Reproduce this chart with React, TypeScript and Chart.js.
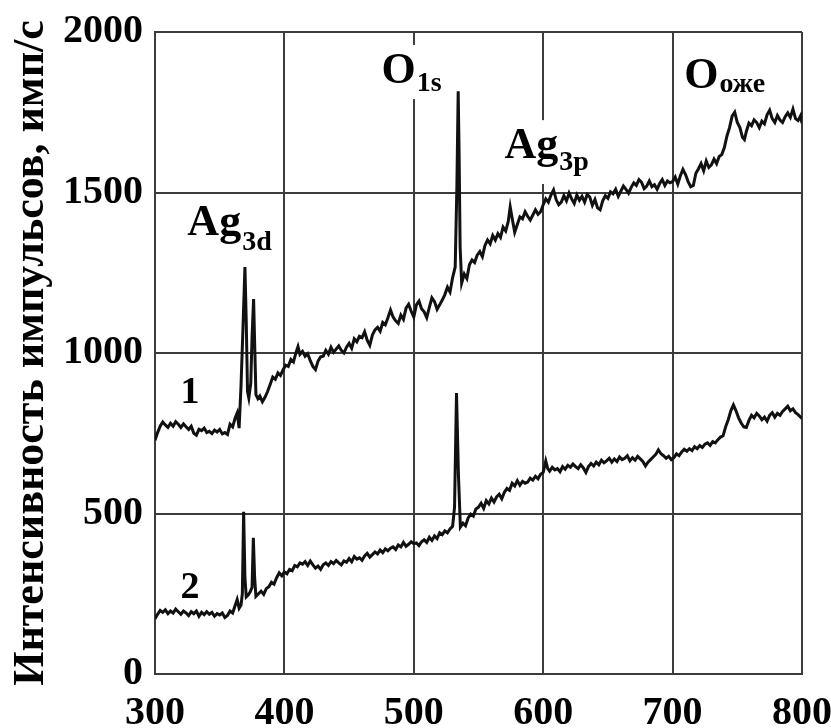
import { useEffect, useRef } from 'react';
import { Chart, registerables } from 'chart.js';

Chart.register(...registerables);

const SERIF = '"Liberation Serif", "Times New Roman", serif';

// Sample 1: [energy, counts] pairs
const curve1: [number, number][] = [
  [300, 728], [302, 752], [304, 772], [306, 785], [308, 776], [310, 768], [312, 781], [314, 772],
  [316, 786], [318, 778], [320, 768], [322, 779], [324, 770], [326, 762], [328, 772], [330, 750],
  [332, 744], [334, 762], [336, 758], [338, 766], [340, 752], [342, 756], [344, 749], [346, 760],
  [348, 754], [350, 762], [352, 748], [354, 752], [356, 746], [358, 778], [360, 770], [362, 798],
  [363.5, 813], [365, 766], [366.5, 900], [368, 1080], [369.5, 1268], [370.5, 1100], [371.5, 880],
  [372.5, 860], [374, 905], [375, 1050], [376.2, 1168], [377.2, 1000], [378, 870], [379.5, 858],
  [381, 866], [383, 848], [385, 862], [387, 880], [389, 902], [391, 925], [393, 918], [395, 938],
  [397, 930], [399, 948], [401, 962], [403, 958], [405, 980], [407, 972], [409, 1002], [410.5, 1020],
  [412, 996], [414, 1005], [416, 990], [418, 998], [420, 976], [422, 958], [424, 948], [426, 975],
  [428, 988], [430, 990], [432, 1008], [434, 996], [436, 1018], [438, 1002], [440, 1012], [442, 1022],
  [444, 1008], [446, 1000], [448, 1018], [450, 1030], [452, 1015], [454, 1044], [456, 1035], [458, 1052],
  [460, 1048], [462, 1066], [464, 1040], [466, 1024], [468, 1056], [470, 1072], [472, 1080], [474, 1068],
  [476, 1095], [478, 1088], [480, 1110], [482, 1134], [484, 1112], [486, 1100], [488, 1092], [490, 1118],
  [492, 1105], [494, 1140], [496, 1152], [498, 1130], [500, 1112], [502, 1150], [504, 1162], [506, 1138],
  [508, 1128], [510, 1110], [512, 1142], [514, 1172], [516, 1160], [518, 1136], [520, 1150], [522, 1165],
  [524, 1182], [526, 1205], [528, 1190], [530, 1235], [532, 1268], [533.3, 1520], [534.3, 1815],
  [535, 1625], [535.8, 1330], [537, 1218], [539, 1246], [541, 1232], [543, 1275], [545, 1290],
  [547, 1282], [549, 1305], [551, 1316], [553, 1300], [555, 1335], [557, 1352], [559, 1340], [561, 1366],
  [563, 1352], [565, 1372], [567, 1360], [569, 1392], [571, 1380], [573, 1410], [574.5, 1455], [576, 1420],
  [578, 1376], [580, 1400], [582, 1424], [584, 1418], [586, 1440], [588, 1426], [590, 1414], [592, 1430],
  [594, 1446], [596, 1432], [598, 1440], [600, 1462], [602, 1480], [604, 1470], [606, 1492], [608, 1508],
  [610, 1478], [612, 1462], [614, 1470], [616, 1490], [618, 1474], [620, 1498], [622, 1480], [624, 1466],
  [626, 1492], [628, 1476], [630, 1488], [632, 1470], [634, 1494], [636, 1486], [638, 1460], [640, 1478],
  [642, 1452], [644, 1446], [646, 1474], [648, 1490], [650, 1482], [652, 1502], [654, 1496], [656, 1510],
  [658, 1488], [660, 1504], [662, 1520], [664, 1510], [666, 1498], [668, 1516], [670, 1530], [672, 1522],
  [674, 1540], [676, 1532], [678, 1512], [680, 1520], [682, 1536], [684, 1518], [686, 1524], [688, 1510],
  [690, 1528], [692, 1540], [694, 1522], [696, 1536], [698, 1530], [700, 1534], [702, 1548], [704, 1526],
  [706, 1552], [708, 1572], [710, 1556], [712, 1534], [714, 1518], [716, 1522], [718, 1560], [720, 1574],
  [722, 1590], [724, 1568], [726, 1598], [728, 1578], [730, 1586], [732, 1604], [734, 1590], [736, 1612],
  [738, 1618], [740, 1640], [742, 1676], [744, 1702], [746, 1738], [748, 1750], [750, 1718], [752, 1702],
  [754, 1672], [755.5, 1665], [757, 1690], [759, 1716], [761, 1708], [763, 1726], [765, 1718], [767, 1702],
  [769, 1722], [771, 1714], [773, 1742], [775, 1756], [777, 1730], [779, 1718], [781, 1740], [783, 1726],
  [785, 1718], [787, 1736], [789, 1748], [791, 1734], [793, 1760], [795, 1730], [797, 1724], [799, 1740],
  [800, 1716],
];

// Sample 2: [energy, counts] pairs
const curve2: [number, number][] = [
  [300, 172], [302, 186], [304, 198], [306, 192], [308, 200], [310, 188], [312, 196], [314, 190],
  [316, 202], [318, 194], [320, 186], [322, 196], [324, 190], [326, 182], [328, 194], [330, 188],
  [332, 196], [334, 180], [336, 192], [338, 185], [340, 194], [342, 186], [344, 192], [346, 180],
  [348, 188], [350, 184], [352, 190], [354, 176], [356, 182], [358, 196], [360, 190], [362, 214],
  [363.5, 232], [365, 205], [366.5, 215], [367.5, 250], [368.5, 505], [369.5, 300], [370.5, 240],
  [372, 246], [373.5, 255], [375, 270], [376, 424], [377, 300], [378, 242], [380, 250], [382, 258],
  [384, 248], [386, 266], [388, 272], [390, 286], [392, 280], [394, 300], [396, 315], [398, 306],
  [400, 318], [402, 312], [404, 326], [406, 322], [408, 338], [410, 334], [412, 346], [414, 342],
  [416, 350], [418, 338], [420, 352], [422, 340], [424, 330], [426, 336], [428, 326], [430, 340],
  [432, 346], [434, 338], [436, 350], [438, 344], [440, 354], [442, 346], [444, 340], [446, 352],
  [448, 348], [450, 360], [452, 350], [454, 366], [456, 358], [458, 362], [460, 354], [462, 368],
  [464, 376], [466, 364], [468, 372], [470, 380], [472, 374], [474, 386], [476, 378], [478, 390],
  [480, 384], [482, 392], [484, 396], [486, 388], [488, 402], [490, 396], [492, 410], [494, 398],
  [496, 404], [498, 412], [500, 406], [502, 408], [504, 400], [506, 412], [508, 418], [510, 410],
  [512, 426], [514, 416], [516, 430], [518, 422], [520, 440], [522, 434], [524, 446], [526, 440],
  [528, 452], [530, 460], [531.5, 520], [533, 875], [534.5, 620], [536, 458], [538, 470], [540, 462],
  [542, 486], [544, 498], [546, 492], [548, 514], [550, 520], [552, 532], [554, 516], [556, 540],
  [558, 530], [560, 548], [562, 536], [564, 552], [566, 560], [568, 546], [570, 566], [572, 578],
  [574, 572], [576, 594], [578, 586], [580, 602], [582, 588], [584, 600], [586, 594], [588, 598],
  [590, 610], [592, 604], [594, 616], [596, 608], [598, 622], [600, 628], [602, 664], [603.5, 640],
  [605, 632], [607, 644], [609, 636], [611, 640], [613, 630], [615, 646], [617, 638], [619, 650],
  [621, 644], [623, 654], [625, 646], [627, 640], [629, 652], [631, 642], [633, 628], [635, 646],
  [637, 656], [639, 648], [641, 660], [643, 652], [645, 666], [647, 658], [649, 664], [651, 672],
  [653, 660], [655, 670], [657, 662], [659, 676], [661, 668], [663, 672], [665, 680], [667, 664],
  [669, 674], [671, 666], [673, 678], [675, 670], [677, 662], [679, 648], [681, 660], [683, 668],
  [685, 676], [687, 684], [689, 698], [691, 686], [693, 680], [695, 672], [697, 678], [699, 668],
  [701, 674], [703, 686], [705, 680], [707, 692], [709, 700], [711, 694], [713, 702], [715, 696],
  [717, 708], [719, 702], [721, 712], [723, 706], [725, 716], [727, 720], [729, 712], [731, 724],
  [733, 720], [735, 730], [737, 738], [739, 742], [741, 770], [743, 792], [745, 820], [747, 838],
  [749, 820], [751, 798], [753, 782], [755, 770], [757, 768], [759, 790], [761, 806], [763, 798],
  [765, 812], [767, 804], [769, 792], [771, 800], [773, 788], [775, 806], [777, 814], [779, 800],
  [781, 812], [783, 806], [785, 818], [787, 826], [789, 834], [791, 820], [793, 826], [795, 814],
  [797, 808], [799, 800], [800, 796],
];

const xTicks = [300, 400, 500, 600, 700, 800];
const yTicks = [0, 500, 1000, 1500, 2000];

const yTitle = 'Интенсивность импульсов, имп/с';

// Peak labels with subscripts, anchored in data units (energy, counts)
const peakNotes = [
  { main: 'Ag', sub: '3d', x: 325, y: 1368, subY: 1321 },
  { main: 'O', sub: '1s', x: 475, y: 1841, subY: 1816 },
  { main: 'Ag', sub: '3p', x: 570, y: 1607, subY: 1570 },
  { main: 'O', sub: 'оже', x: 709, y: 1826, subY: 1813 },
];

// Curve numbers
const curveNotes = [
  { text: '1', x: 327, y: 845 },
  { text: '2', x: 327, y: 237 },
];

const GRID = '#3c3c3c';

const notesPlugin = {
  id: 'spectrumNotes',
  beforeDatasetsDraw(chart: any) {
    const { ctx, scales } = chart;
    const xs = scales.x;
    const ys = scales.y;
    ctx.save();
    ctx.textAlign = 'left';
    ctx.textBaseline = 'alphabetic';
    for (const n of peakNotes) {
      const px = xs.getPixelForValue(n.x);
      const py = ys.getPixelForValue(n.y);
      const sy = ys.getPixelForValue(n.subY);
      const mainFont = `bold 44px ${SERIF}`;
      const subFont = `bold 28px ${SERIF}`;
      ctx.font = mainFont;
      const mm = ctx.measureText(n.main);
      ctx.font = subFont;
      const sm = ctx.measureText(n.sub);
      const sx = px + mm.width + 1;
      const top = Math.min(py - mm.actualBoundingBoxAscent, sy - sm.actualBoundingBoxAscent) - 9;
      const bottom = Math.max(py + mm.actualBoundingBoxDescent, sy + sm.actualBoundingBoxDescent) + 8;
      // clear the grid behind the label
      ctx.fillStyle = '#ffffff';
      ctx.fillRect(px - 4, top, sx + sm.width - px + 8, bottom - top);
      ctx.fillStyle = '#000000';
      ctx.font = mainFont;
      ctx.fillText(n.main, px, py);
      ctx.font = subFont;
      ctx.fillText(n.sub, sx, sy);
    }
    ctx.font = `bold 38px ${SERIF}`;
    ctx.textAlign = 'center';
    ctx.fillStyle = '#000000';
    for (const c of curveNotes) {
      ctx.fillText(c.text, xs.getPixelForValue(c.x), ys.getPixelForValue(c.y));
    }
    ctx.restore();
  },
};

export default function App() {
  const canvasRef = useRef<HTMLCanvasElement>(null);

  useEffect(() => {
    const canvas = canvasRef.current;
    if (!canvas) return;
    const chart = new Chart(canvas, {
      type: 'line',
      data: {
        datasets: [
          {
            label: '1',
            data: curve1.map(([x, y]) => ({ x, y })),
            borderColor: '#111111',
            borderWidth: 3,
            pointRadius: 0,
            tension: 0,
          },
          {
            label: '2',
            data: curve2.map(([x, y]) => ({ x, y })),
            borderColor: '#111111',
            borderWidth: 3,
            pointRadius: 0,
            tension: 0,
          },
        ],
      },
      options: {
        animation: false,
        responsive: false,
        layout: { padding: { top: 32, left: 0, right: 0, bottom: 0 } },
        plugins: {
          legend: { display: false },
          tooltip: { enabled: false },
        },
        scales: {
          x: {
            type: 'linear',
            min: 300,
            max: 800,
            afterBuildTicks: (s: any) => {
              s.ticks = xTicks.map((v) => ({ value: v }));
            },
            afterFit: (s: any) => {
              s.height = 54;
              s.paddingLeft = 0;
              s.paddingRight = 29;
            },
            grid: { color: GRID, lineWidth: 2, drawTicks: false },
            border: { color: GRID, width: 2 },
            ticks: {
              color: '#000000',
              padding: 16,
              maxRotation: 0,
              callback: (v: any) => String(v),
              font: { family: SERIF, size: 40, weight: 'bold' },
            },
          },
          y: {
            type: 'linear',
            min: 0,
            max: 2000,
            afterBuildTicks: (s: any) => {
              s.ticks = yTicks.map((v) => ({ value: v }));
            },
            afterFit: (s: any) => {
              s.width = 155;
              s.paddingTop = 0;
              s.paddingBottom = 0;
            },
            grid: { color: GRID, lineWidth: 2, drawTicks: false },
            border: { color: GRID, width: 2 },
            ticks: {
              color: '#000000',
              padding: 12,
              callback: (v: any) => String(v),
              font: { family: SERIF, size: 40, weight: 'bold' },
            },
            title: {
              display: true,
              text: yTitle,
              color: '#000000',
              padding: { top: 5, bottom: 0 },
              font: { family: SERIF, size: 44, weight: 'bold' },
            },
          },
        },
      },
      plugins: [notesPlugin],
    });
    return () => chart.destroy();
  }, []);

  return (
    <div style={{ position: 'fixed', left: 0, top: 0, width: 831, height: 728, background: '#ffffff' }}>
      <canvas ref={canvasRef} width={831} height={728} />
    </div>
  );
}
